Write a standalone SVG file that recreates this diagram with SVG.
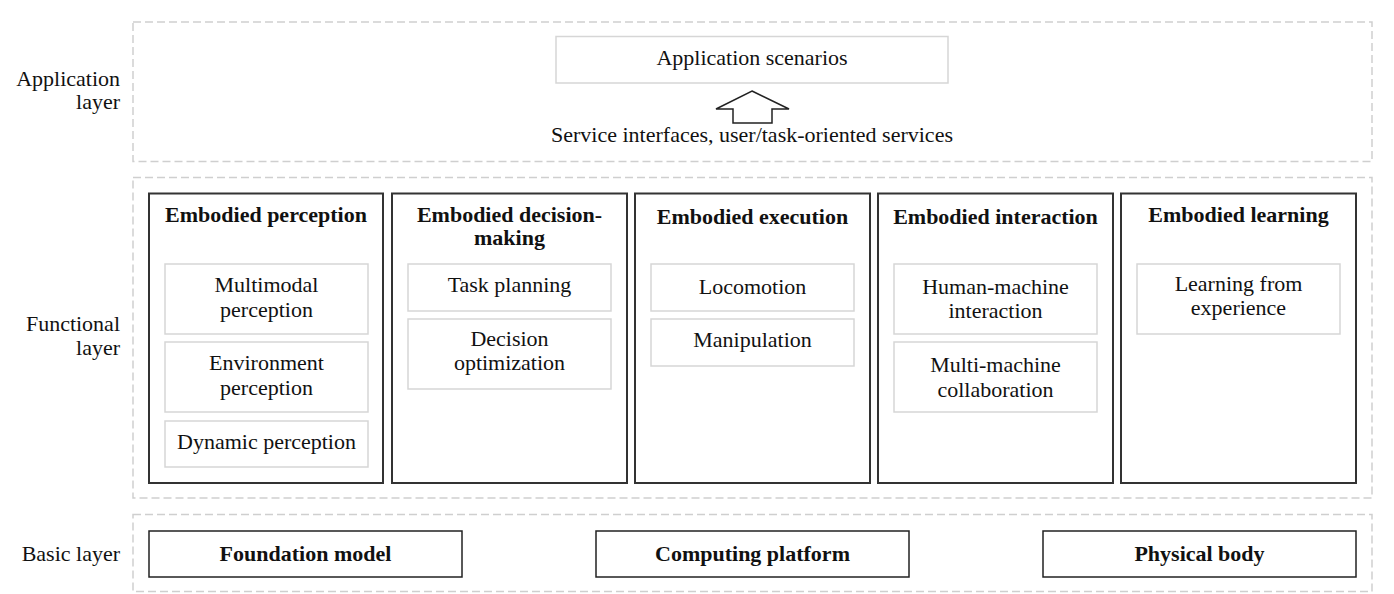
<svg xmlns="http://www.w3.org/2000/svg" width="1394" height="594" viewBox="0 0 1394 594">
<style>
text{font-family:"Liberation Serif","Times New Roman",serif;font-size:22px;fill:#111}
.c{text-anchor:middle}
.e{text-anchor:end}
.b{font-weight:bold}
.layer{fill:none;stroke:#cfcfcf;stroke-width:1.5;stroke-dasharray:8 4}
.main{fill:#fff;stroke:#333;stroke-width:2}
.sub{fill:#fff;stroke:#d6d6d6;stroke-width:1.5}
.base{fill:#fff;stroke:#222;stroke-width:1.5}
</style>
<rect width="1394" height="594" fill="#fff"/>

<g id="application-layer">
  <rect class="layer" x="133" y="22" width="1239" height="139.5"/>
  <text class="e" x="120" y="86">Application</text>
  <text class="e" x="120" y="109">layer</text>
</g>
<g id="application-scenarios">
  <rect class="sub" x="556" y="36.5" width="392" height="46.5"/>
  <text class="c" x="752" y="65">Application scenarios</text>
</g>
<g id="connectors">
  <polygon points="752,91 789,109 772,109 772,123 733,123 733,109 716,109" fill="#fff" stroke="#222" stroke-width="1.5"/>
</g>
<g id="service-interfaces">
  <text class="c" x="752" y="142">Service interfaces, user/task-oriented services</text>
</g>

<g id="functional-layer">
  <rect class="layer" x="133" y="177.5" width="1239" height="320.5"/>
  <text class="e" x="120" y="331">Functional</text>
  <text class="e" x="120" y="355">layer</text>
</g>

<g id="embodied-perception">
  <rect class="main" x="149" y="193.5" width="234" height="289.5"/>
  <text class="c b" x="266" y="222">Embodied perception</text>
  <rect class="sub" x="165" y="264" width="203" height="70"/>
  <text class="c" x="266.5" y="292">Multimodal</text>
  <text class="c" x="266.5" y="317">perception</text>
  <rect class="sub" x="165" y="342" width="203" height="70"/>
  <text class="c" x="266.5" y="370">Environment</text>
  <text class="c" x="266.5" y="395">perception</text>
  <rect class="sub" x="165" y="421" width="203" height="46"/>
  <text class="c" x="266.5" y="449">Dynamic perception</text>
</g>

<g id="embodied-decision-making">
  <rect class="main" x="392" y="193.5" width="235" height="289.5"/>
  <text class="c b" x="509.5" y="222">Embodied decision-</text>
  <text class="c b" x="509.5" y="245">making</text>
  <rect class="sub" x="408" y="264" width="203" height="47"/>
  <text class="c" x="509.5" y="292">Task planning</text>
  <rect class="sub" x="408" y="319" width="203" height="70"/>
  <text class="c" x="509.5" y="346">Decision</text>
  <text class="c" x="509.5" y="370">optimization</text>
</g>

<g id="embodied-execution">
  <rect class="main" x="635" y="193.5" width="235" height="289.5"/>
  <text class="c b" x="752.5" y="224">Embodied execution</text>
  <rect class="sub" x="651" y="264" width="203" height="47"/>
  <text class="c" x="752.5" y="294">Locomotion</text>
  <rect class="sub" x="651" y="319" width="203" height="47"/>
  <text class="c" x="752.5" y="347">Manipulation</text>
</g>

<g id="embodied-interaction">
  <rect class="main" x="878" y="193.5" width="235" height="289.5"/>
  <text class="c b" x="995.5" y="224">Embodied interaction</text>
  <rect class="sub" x="894" y="264" width="203" height="70"/>
  <text class="c" x="995.5" y="294">Human-machine</text>
  <text class="c" x="995.5" y="318">interaction</text>
  <rect class="sub" x="894" y="342" width="203" height="70"/>
  <text class="c" x="995.5" y="372">Multi-machine</text>
  <text class="c" x="995.5" y="397">collaboration</text>
</g>

<g id="embodied-learning">
  <rect class="main" x="1121" y="193.5" width="235" height="289.5"/>
  <text class="c b" x="1238.5" y="222">Embodied learning</text>
  <rect class="sub" x="1137" y="264" width="203" height="70"/>
  <text class="c" x="1238.5" y="291">Learning from</text>
  <text class="c" x="1238.5" y="315">experience</text>
</g>

<g id="basic-layer">
  <rect class="layer" x="133" y="514.5" width="1239" height="77"/>
  <text class="e" x="120" y="561">Basic layer</text>
</g>
<g id="foundation-model">
  <rect class="base" x="149" y="531" width="313" height="46"/>
  <text class="c b" x="305.5" y="561">Foundation model</text>
</g>
<g id="computing-platform">
  <rect class="base" x="596" y="531" width="313" height="46"/>
  <text class="c b" x="752.5" y="561">Computing platform</text>
</g>
<g id="physical-body">
  <rect class="base" x="1043" y="531" width="313" height="46"/>
  <text class="c b" x="1199.5" y="561">Physical body</text>
</g>
</svg>
